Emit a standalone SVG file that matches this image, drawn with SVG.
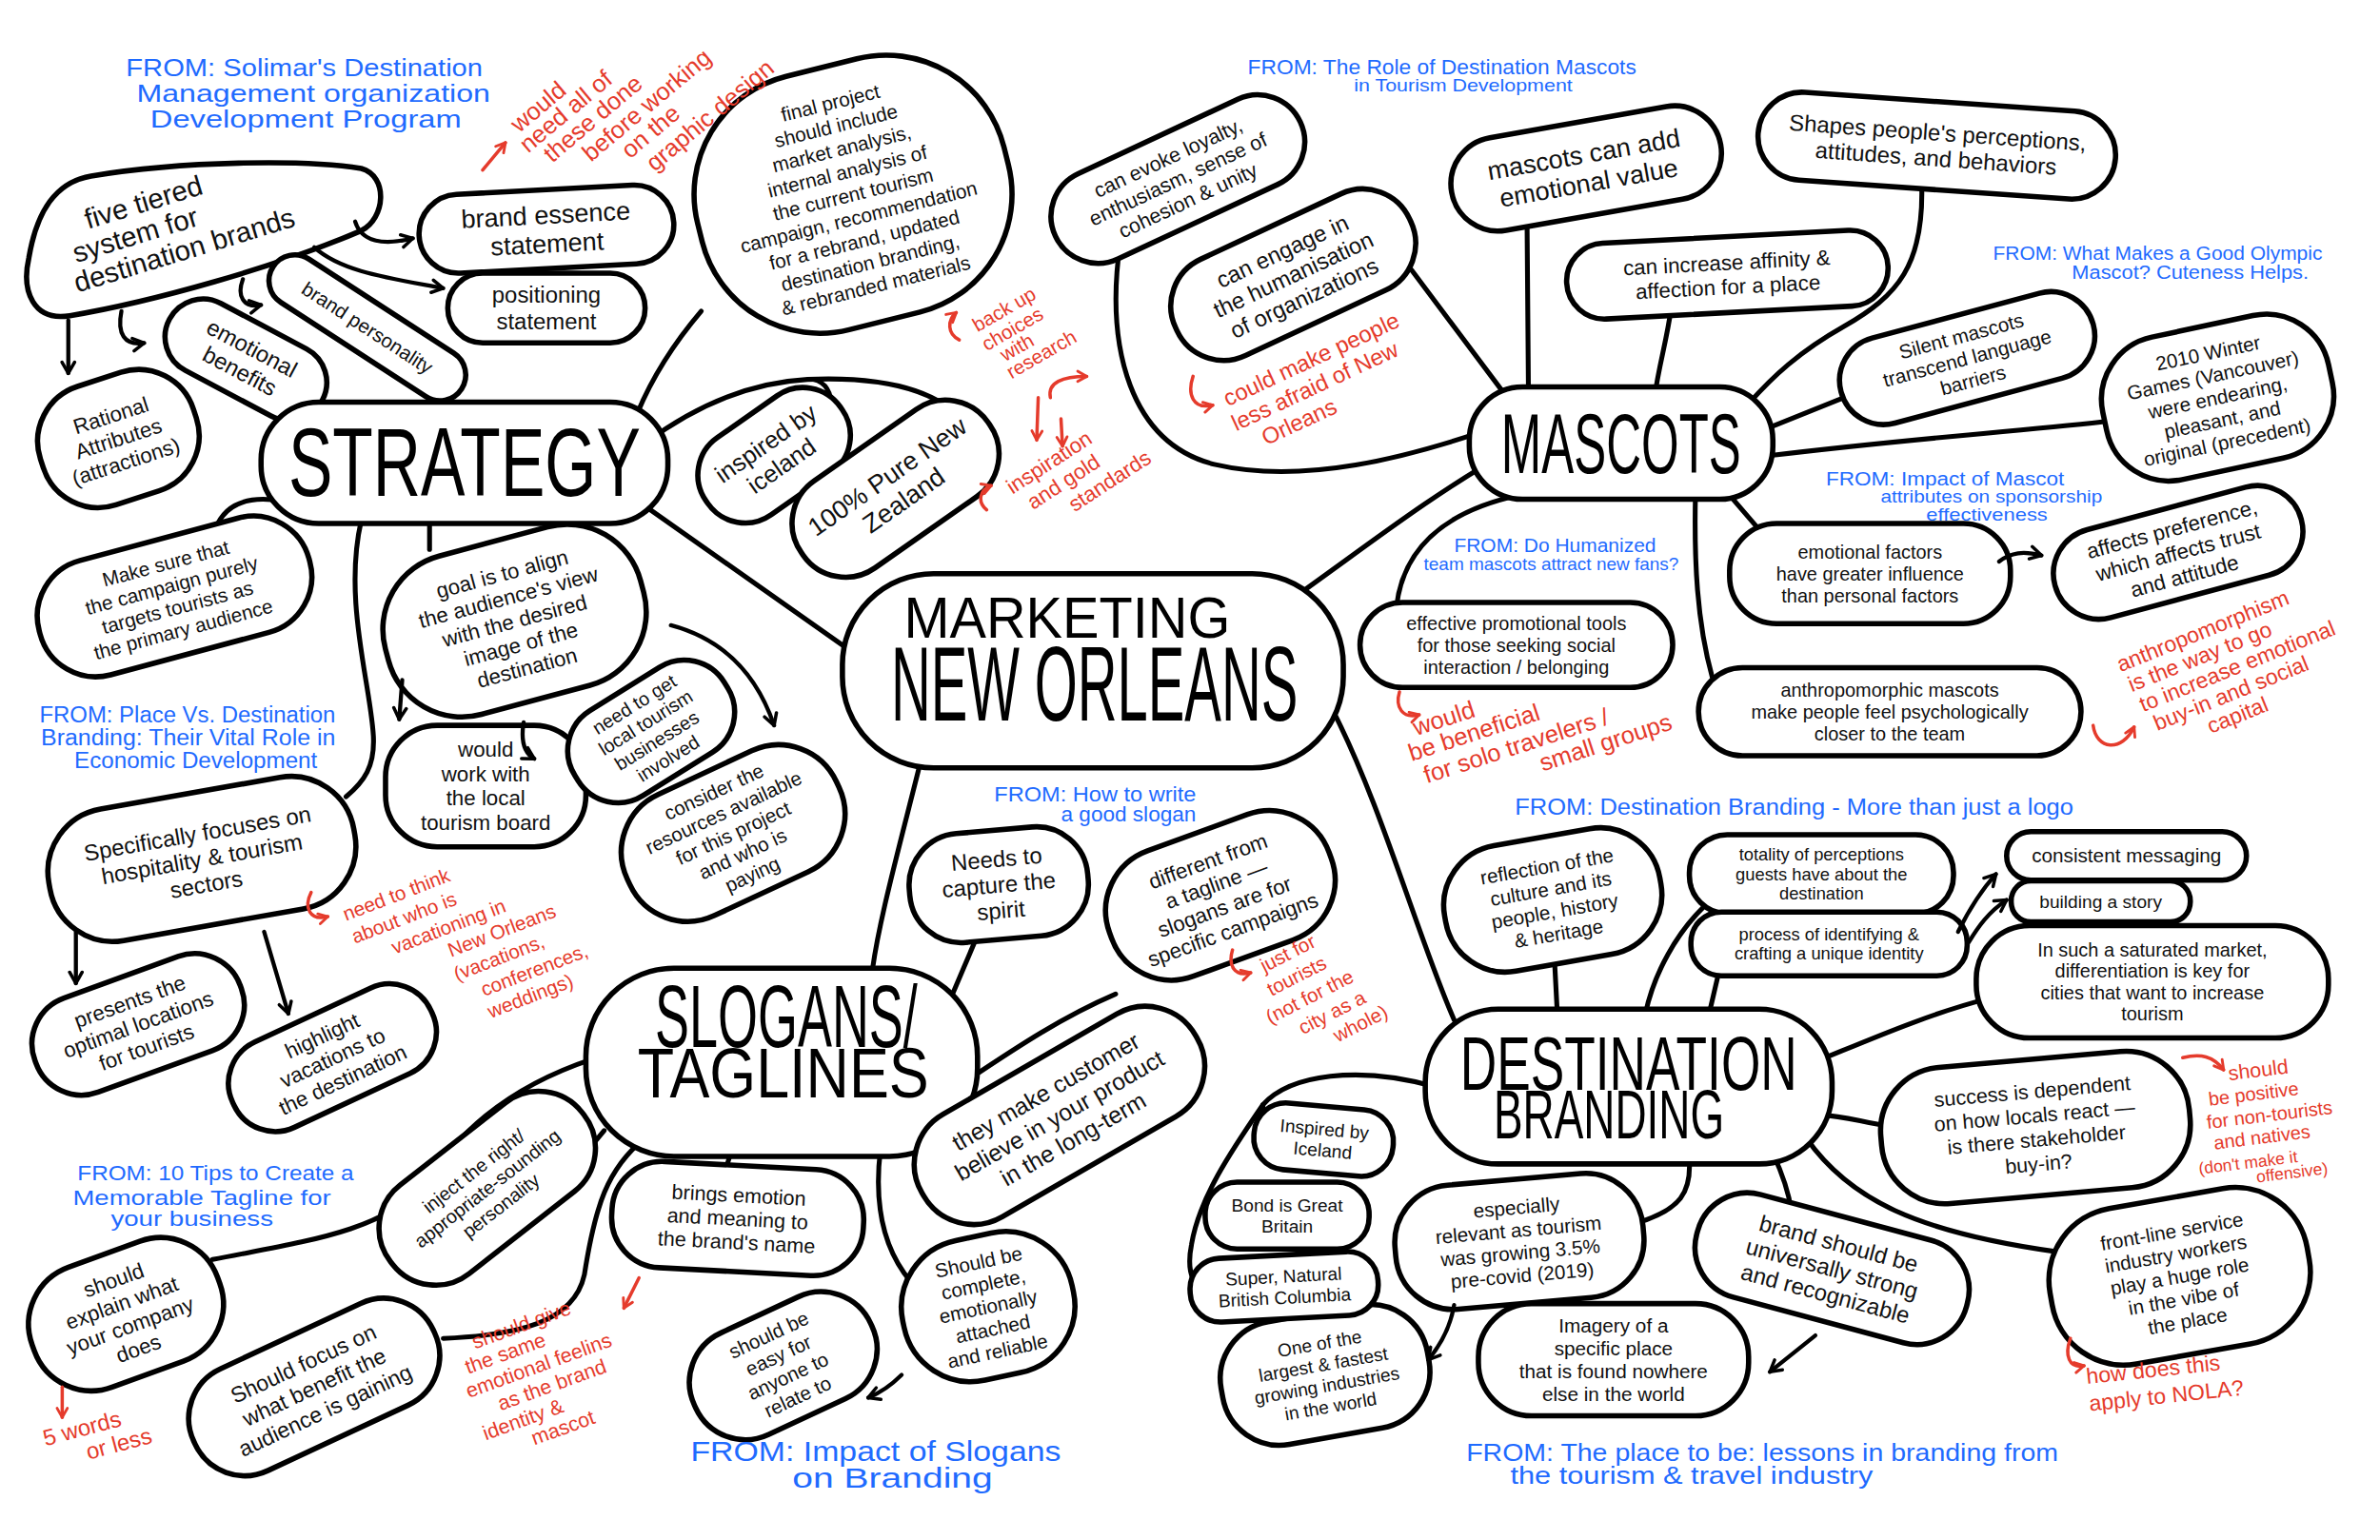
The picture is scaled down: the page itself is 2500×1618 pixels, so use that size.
<svg xmlns="http://www.w3.org/2000/svg" width="2500" height="1618" viewBox="0 0 2500 1618">
<defs>
<style>
text{font-family:"Liberation Sans",Arial,sans-serif}
.n{fill:#fff;stroke:#000;stroke-width:3.5;stroke-linejoin:round}
.c{fill:none;stroke:#000;stroke-width:3.2;stroke-linecap:round}
.ca{fill:none;stroke:#000;stroke-width:2.7;stroke-linecap:round;marker-end:url(#ah)}
.ra{fill:none;stroke:#e53b2c;stroke-width:2.2;stroke-linecap:round;marker-end:url(#rh)}
.t{fill:#111;text-anchor:middle}
.ts{fill:#111;text-anchor:start}
.hd{fill:#000;text-anchor:middle}
.bl{fill:#1f6bff}
.rd{fill:#e53b2c}
</style>
<marker id="ah" viewBox="0 0 12 12" refX="10" refY="6" markerWidth="11" markerHeight="11" markerUnits="userSpaceOnUse" orient="auto"><path d="M2,1.5 L10,6 L2,10.5" fill="none" stroke="#000" stroke-width="2.4" stroke-linecap="round" stroke-linejoin="round"/></marker>
<marker id="rh" viewBox="0 0 12 12" refX="10" refY="6" markerWidth="9" markerHeight="9" markerUnits="userSpaceOnUse" orient="auto"><path d="M2,1.5 L10,6 L2,10.5" fill="none" stroke="#e53b2c" stroke-width="2.4" stroke-linecap="round" stroke-linejoin="round"/></marker>
</defs>
<rect width="2500" height="1618" fill="#fff"/>
<g transform="scale(1.5944)">

<g id="connectors">
<path class="c" d="M420,330 C470,365 520,400 562,430"/>
<path class="c" d="M855,392 C900,360 945,325 990,300"/>
<path class="c" d="M607,500 C592,560 578,610 574,645"/>
<path class="c" d="M878,468 C910,530 935,620 958,672"/>
<path class="c" d="M420,272 C430,248 445,225 462,205"/>
<path class="c" d="M425,292 C460,266 495,252 532,250 C580,248 625,256 642,288"/>
<path class="c" d="M536,250 C544,252 548,258 548,270"/>
<path class="c" d="M185,330 C160,326 144,334 140,356"/>
<path class="c" d="M283,340 L283,362"/>
<path class="c" d="M238,343 C226,395 244,450 246,485 C247,505 240,515 228,525"/>
<path class="c" d="M738,160 C728,230 745,292 800,306 C860,320 930,300 975,285"/>
<path class="c" d="M930,178 L990,258"/>
<path class="c" d="M1007,262 L1006,140"/>
<path class="c" d="M1090,262 C1093,240 1098,225 1101,203"/>
<path class="c" d="M1152,266 C1168,248 1185,232 1215,215 C1250,195 1268,175 1266,120"/>
<path class="c" d="M1165,282 L1215,262"/>
<path class="c" d="M1168,300 C1250,290 1320,285 1385,278"/>
<path class="c" d="M1134,320 L1165,356"/>
<path class="c" d="M1117,325 C1116,370 1118,410 1128,446"/>
<path class="c" d="M1002,326 C960,335 925,355 920,400"/>
<path class="c" d="M628,654 L645,614"/>
<path class="c" d="M640,710 C670,690 700,670 735,655"/>
<path class="c" d="M628,735 C642,735 650,745 652,758"/>
<path class="c" d="M580,758 C575,800 585,830 605,850"/>
<path class="c" d="M482,758 L477,774"/>
<path class="c" d="M398,745 L384,762"/>
<path class="c" d="M425,750 C400,770 392,795 385,840 C378,872 340,880 292,882"/>
<path class="c" d="M390,698 C330,718 300,750 280,780 C252,812 200,818 140,830"/>
<path class="c" d="M1026,668 L1024,630"/>
<path class="c" d="M1084,668 C1090,640 1105,615 1122,598"/>
<path class="c" d="M1126,668 L1133,638"/>
<path class="c" d="M1195,700 C1225,688 1270,668 1310,658"/>
<path class="c" d="M1200,735 C1215,735 1228,740 1245,742"/>
<path class="c" d="M1190,750 C1218,790 1262,812 1356,825"/>
<path class="c" d="M1168,760 C1175,775 1180,790 1181,805"/>
<path class="c" d="M1113,765 C1114,785 1108,797 1078,806"/>
<path class="c" d="M945,716 C895,702 850,708 832,728 C810,760 790,790 785,820 C782,835 785,845 792,850"/>
<path class="c" d="M832,728 L833,745"/>
<path class="c" d="M796,788 C799,796 803,800 808,805"/>
</g>

<g id="nodes">
<g id="n-five-tiered"><path class="n" d="M60,116 C120,106 200,105 238,111 C256,116 254,144 238,152 C182,176 100,199 46,208 C22,212 14,192 19,170 C24,140 36,120 60,116 Z"/><text class="ts" font-size="18.5" transform="translate(58 151) rotate(-17)"><tspan x="0" y="0">five tiered</tspan><tspan x="-14" y="19">system for</tspan><tspan x="-19" y="38">destination brands</tspan></text></g>
<g id="n-brand-essence" transform="translate(360 151) rotate(-3)"><rect class="n" x="-84" y="-26" width="168" height="52" rx="26"/><text class="t" font-size="17" y="-3.5"><tspan x="0">brand essence</tspan><tspan x="0" dy="19">statement</tspan></text></g>
<g id="n-positioning" transform="translate(360 203)"><rect class="n" x="-65" y="-23" width="130" height="46" rx="23"/><text class="t" font-size="15" y="-3.3"><tspan x="0">positioning</tspan><tspan x="0" dy="17">statement</tspan></text></g>
<g id="n-brand-personality" transform="translate(242 216) rotate(33)"><rect class="n" x="-74" y="-17" width="148" height="34" rx="17"/><text class="t" font-size="13" y="4.5">brand personality</text></g>
<g id="n-emotional-benefits" transform="translate(162 237) rotate(28)"><rect class="n" x="-57" y="-25" width="114" height="50" rx="25"/><text class="t" font-size="15" y="-3.3"><tspan x="0">emotional</tspan><tspan x="0" dy="17">benefits</tspan></text></g>
<g id="n-rational" transform="translate(78 289) rotate(-18)"><rect class="n" x="-53" y="-41" width="106" height="82" rx="38"/><text class="t" font-size="14" y="-11.1"><tspan x="0">Rational</tspan><tspan x="0" dy="16">Attributes</tspan><tspan x="0" dy="16">(attractions)</tspan></text></g>
<g id="n-strategy" transform="translate(306 305)"><rect class="n" x="-134" y="-40" width="268" height="80" rx="38"/><text class="hd" font-size="64" y="22" textLength="232" lengthAdjust="spacingAndGlyphs" x="0">STRATEGY</text></g>
<g id="n-final-project" transform="translate(562 128) rotate(-14)"><rect class="n" x="-104" y="-86" width="208" height="172" rx="80"/><text class="t" font-size="13" y="-57.5"><tspan x="0">final project</tspan><tspan x="0" dy="15.5">should include</tspan><tspan x="0" dy="15.5">market analysis,</tspan><tspan x="0" dy="15.5">internal analysis of</tspan><tspan x="0" dy="15.5">the current tourism</tspan><tspan x="0" dy="15.5">campaign, recommendation</tspan><tspan x="0" dy="15.5">for a rebrand, updated</tspan><tspan x="0" dy="15.5">destination branding,</tspan><tspan x="0" dy="15.5">&amp; rebranded materials</tspan></text></g>
<g id="n-inspired-iceland" transform="translate(510 300) rotate(-35)"><rect class="n" x="-54" y="-31" width="108" height="62" rx="30"/><text class="t" font-size="16" y="-4"><tspan x="0">inspired by</tspan><tspan x="0" dy="18">iceland</tspan></text></g>
<g id="n-pure-nz" transform="translate(590 322) rotate(-35)"><rect class="n" x="-75" y="-35" width="150" height="70" rx="34"/><text class="t" font-size="17" y="-3.8"><tspan x="0">100% Pure New</tspan><tspan x="0" dy="19">Zealand</tspan></text></g>
<g id="n-can-evoke" transform="translate(776 118) rotate(-25)"><rect class="n" x="-89" y="-31" width="178" height="62" rx="31"/><text class="t" font-size="13.5" y="-10.8"><tspan x="0">can evoke loyalty,</tspan><tspan x="0" dy="15.5">enthusiasm, sense of</tspan><tspan x="0" dy="15.5">cohesion &amp; unity</tspan></text></g>
<g id="n-can-engage" transform="translate(852 181) rotate(-25)"><rect class="n" x="-85" y="-35" width="170" height="70" rx="34"/><text class="t" font-size="15" y="-11.8"><tspan x="0">can engage in</tspan><tspan x="0" dy="17">the humanisation</tspan><tspan x="0" dy="17">of organizations</tspan></text></g>
<g id="n-mascots-add" transform="translate(1045 111) rotate(-10)"><rect class="n" x="-90" y="-31" width="180" height="62" rx="31"/><text class="t" font-size="17" y="-3.5"><tspan x="0">mascots can add</tspan><tspan x="0" dy="19">emotional value</tspan></text></g>
<g id="n-shapes" transform="translate(1276 96) rotate(4)"><rect class="n" x="-118" y="-29" width="236" height="58" rx="29"/><text class="t" font-size="15" y="-3.4"><tspan x="0">Shapes people's perceptions,</tspan><tspan x="0" dy="17">attitudes, and behaviors</tspan></text></g>
<g id="n-can-increase" transform="translate(1138 181) rotate(-3)"><rect class="n" x="-106" y="-25" width="212" height="50" rx="25"/><text class="t" font-size="14" y="-3.1"><tspan x="0">can increase affinity &amp;</tspan><tspan x="0" dy="16">affection for a place</tspan></text></g>
<g id="n-silent" transform="translate(1296 236) rotate(-15)"><rect class="n" x="-86" y="-29" width="172" height="58" rx="29"/><text class="t" font-size="13" y="-10.5"><tspan x="0">Silent mascots</tspan><tspan x="0" dy="15">transcend language</tspan><tspan x="0" dy="15">barriers</tspan></text></g>
<g id="n-winter" transform="translate(1461 262) rotate(-12)"><rect class="n" x="-76" y="-48" width="152" height="96" rx="42"/><text class="t" font-size="13" y="-25.5"><tspan x="0">2010 Winter</tspan><tspan x="0" dy="15">Games (Vancouver)</tspan><tspan x="0" dy="15">were endearing,</tspan><tspan x="0" dy="15">pleasant, and</tspan><tspan x="0" dy="15">original (precedent)</tspan></text></g>
<g id="n-mascots" transform="translate(1068 292)"><rect class="n" x="-100" y="-37" width="200" height="74" rx="35"/><text class="hd" font-size="56" x="0" y="20" textLength="158" lengthAdjust="spacingAndGlyphs">MASCOTS</text></g>
<g id="n-emo-factors" transform="translate(1232 378)"><rect class="n" x="-92.5" y="-33" width="185" height="66" rx="31"/><text class="t" font-size="12.5" y="-10.1"><tspan x="0">emotional factors</tspan><tspan x="0" dy="14.5">have greater influence</tspan><tspan x="0" dy="14.5">than personal factors</tspan></text></g>
<g id="n-affects" transform="translate(1435 364) rotate(-15)"><rect class="n" x="-84" y="-30" width="168" height="60" rx="30"/><text class="t" font-size="14" y="-11.1"><tspan x="0">affects preference,</tspan><tspan x="0" dy="16">which affects trust</tspan><tspan x="0" dy="16">and attitude</tspan></text></g>
<g id="n-anthro" transform="translate(1245 469)"><rect class="n" x="-126" y="-29" width="252" height="58" rx="29"/><text class="t" font-size="12.5" y="-10.1"><tspan x="0">anthropomorphic mascots</tspan><tspan x="0" dy="14.5">make people feel psychologically</tspan><tspan x="0" dy="14.5">closer to the team</tspan></text></g>
<g id="n-effective" transform="translate(999 425)"><rect class="n" x="-103" y="-28" width="206" height="56" rx="28"/><text class="t" font-size="12.5" y="-10.1"><tspan x="0">effective promotional tools</tspan><tspan x="0" dy="14.5">for those seeking social</tspan><tspan x="0" dy="14.5">interaction / belonging</tspan></text></g>
<g id="n-center" transform="translate(720 442)"><rect class="n" x="-165" y="-64" width="330" height="128" rx="60"/><text class="hd" font-size="38" x="-17" y="-22" textLength="215" lengthAdjust="spacingAndGlyphs">MARKETING</text><text class="hd" font-size="70" x="1" y="33" textLength="268" lengthAdjust="spacingAndGlyphs">NEW ORLEANS</text></g>
<g id="n-make-sure" transform="translate(115 393) rotate(-15)"><rect class="n" x="-92" y="-39" width="184" height="78" rx="38"/><text class="t" font-size="13" y="-18"><tspan x="0">Make sure that</tspan><tspan x="0" dy="15">the campaign purely</tspan><tspan x="0" dy="15">targets tourists as</tspan><tspan x="0" dy="15">the primary audience</tspan></text></g>
<g id="n-goal" transform="translate(339 409) rotate(-15)"><rect class="n" x="-87" y="-54" width="174" height="108" rx="50"/><text class="t" font-size="14" y="-27.1"><tspan x="0">goal is to align</tspan><tspan x="0" dy="16">the audience's view</tspan><tspan x="0" dy="16">with the desired</tspan><tspan x="0" dy="16">image of the</tspan><tspan x="0" dy="16">destination</tspan></text></g>
<g id="n-local-board" transform="translate(320 518)"><rect class="n" x="-66" y="-40" width="132" height="80" rx="34"/><text class="t" font-size="14" y="-19.1"><tspan x="0">would</tspan><tspan x="0" dy="16">work with</tspan><tspan x="0" dy="16">the local</tspan><tspan x="0" dy="16">tourism board</tspan></text></g>
<g id="n-local-business" transform="translate(429 482) rotate(-32)"><rect class="n" x="-58" y="-33" width="116" height="66" rx="31"/><text class="t" font-size="12.5" y="-16.6"><tspan x="0">need to get</tspan><tspan x="0" dy="14">local tourism</tspan><tspan x="0" dy="14">businesses</tspan><tspan x="0" dy="14">involved</tspan></text></g>
<g id="n-consider" transform="translate(483 549) rotate(-25)"><rect class="n" x="-76" y="-44" width="152" height="88" rx="42"/><text class="t" font-size="13" y="-25.5"><tspan x="0">consider the</tspan><tspan x="0" dy="15">resources available</tspan><tspan x="0" dy="15">for this project</tspan><tspan x="0" dy="15">and who is</tspan><tspan x="0" dy="15">paying</tspan></text></g>
<g id="n-specifically" transform="translate(133 566) rotate(-10)"><rect class="n" x="-102" y="-44" width="204" height="88" rx="42"/><text class="t" font-size="15" y="-11.8"><tspan x="0">Specifically focuses on</tspan><tspan x="0" dy="17">hospitality &amp; tourism</tspan><tspan x="0" dy="17">sectors</tspan></text></g>
<g id="n-presents" transform="translate(91 675) rotate(-20)"><rect class="n" x="-72" y="-33" width="144" height="66" rx="32"/><text class="t" font-size="14" y="-11.1"><tspan x="0">presents the</tspan><tspan x="0" dy="16">optimal locations</tspan><tspan x="0" dy="16">for tourists</tspan></text></g>
<g id="n-highlight" transform="translate(219 697) rotate(-25)"><rect class="n" x="-72" y="-31" width="144" height="62" rx="30"/><text class="t" font-size="14" y="-11.1"><tspan x="0">highlight</tspan><tspan x="0" dy="16">vacations to</tspan><tspan x="0" dy="16">the destination</tspan></text></g>
<g id="n-slogans" transform="translate(515 700)"><rect class="n" x="-129" y="-62" width="258" height="124" rx="58"/><text class="hd" font-size="58" x="3" y="-10" textLength="173" lengthAdjust="spacingAndGlyphs">SLOGANS/</text><text class="hd" font-size="46" x="1" y="23" textLength="192" lengthAdjust="spacingAndGlyphs">TAGLINES</text></g>
<g id="n-needs" transform="translate(658 583) rotate(-5)"><rect class="n" x="-59" y="-36" width="118" height="72" rx="34"/><text class="t" font-size="15" y="-11.8"><tspan x="0">Needs to</tspan><tspan x="0" dy="17">capture the</tspan><tspan x="0" dy="17">spirit</tspan></text></g>
<g id="n-different" transform="translate(804 590) rotate(-20)"><rect class="n" x="-77" y="-44" width="154" height="88" rx="42"/><text class="t" font-size="14" y="-19.1"><tspan x="0">different from</tspan><tspan x="0" dy="16">a tagline —</tspan><tspan x="0" dy="16">slogans are for</tspan><tspan x="0" dy="16">specific campaigns</tspan></text></g>
<g id="n-they-make" transform="translate(698 735) rotate(-30)"><rect class="n" x="-104" y="-39" width="208" height="78" rx="38"/><text class="t" font-size="15.5" y="-12.6"><tspan x="0">they make customer</tspan><tspan x="0" dy="18">believe in your product</tspan><tspan x="0" dy="18">in the long-term</tspan></text></g>
<g id="n-complete" transform="translate(651 861) rotate(-12)"><rect class="n" x="-57" y="-47" width="114" height="94" rx="45"/><text class="t" font-size="13" y="-25.5"><tspan x="0">Should be</tspan><tspan x="0" dy="15">complete,</tspan><tspan x="0" dy="15">emotionally</tspan><tspan x="0" dy="15">attached</tspan><tspan x="0" dy="15">and reliable</tspan></text></g>
<g id="n-easy" transform="translate(516 900) rotate(-25)"><rect class="n" x="-64" y="-37" width="128" height="74" rx="36"/><text class="t" font-size="13" y="-18"><tspan x="0">should be</tspan><tspan x="0" dy="15">easy for</tspan><tspan x="0" dy="15">anyone to</tspan><tspan x="0" dy="15">relate to</tspan></text></g>
<g id="n-brings" transform="translate(486 803) rotate(3)"><rect class="n" x="-83" y="-35" width="166" height="70" rx="33"/><text class="t" font-size="13.5" y="-10.8"><tspan x="0">brings emotion</tspan><tspan x="0" dy="15.5">and meaning to</tspan><tspan x="0" dy="15.5">the brand's name</tspan></text></g>
<g id="n-inject" transform="translate(321 783) rotate(-38)"><rect class="n" x="-80" y="-37" width="160" height="74" rx="36"/><text class="t" font-size="12.5" y="-10.1"><tspan x="0">inject the right/</tspan><tspan x="0" dy="14.5">appropriate-sounding</tspan><tspan x="0" dy="14.5">personality</tspan></text></g>
<g id="n-explain" transform="translate(83 866) rotate(-20)"><rect class="n" x="-65" y="-42" width="130" height="84" rx="40"/><text class="t" font-size="14" y="-19.1"><tspan x="0">should</tspan><tspan x="0" dy="16">explain what</tspan><tspan x="0" dy="16">your company</tspan><tspan x="0" dy="16">does</tspan></text></g>
<g id="n-focus" transform="translate(207 914) rotate(-25)"><rect class="n" x="-87" y="-37" width="174" height="74" rx="36"/><text class="t" font-size="14.5" y="-11.9"><tspan x="0">Should focus on</tspan><tspan x="0" dy="17">what benefit the</tspan><tspan x="0" dy="17">audience is gaining</tspan></text></g>
<g id="n-dest" transform="translate(1073 716)"><rect class="n" x="-134" y="-51" width="268" height="102" rx="48"/><text class="hd" font-size="50" x="0" y="2" textLength="222" lengthAdjust="spacingAndGlyphs">DESTINATION</text><text class="hd" font-size="45" x="-13" y="34" textLength="152" lengthAdjust="spacingAndGlyphs">BRANDING</text></g>
<g id="n-reflection" transform="translate(1023 593) rotate(-10)"><rect class="n" x="-72" y="-42" width="144" height="84" rx="40"/><text class="t" font-size="13" y="-18"><tspan x="0">reflection of the</tspan><tspan x="0" dy="15">culture and its</tspan><tspan x="0" dy="15">people, history</tspan><tspan x="0" dy="15">&amp; heritage</tspan></text></g>
<g id="n-totality" transform="translate(1200 576)"><rect class="n" x="-87" y="-26" width="174" height="52" rx="25"/><text class="t" font-size="11.5" y="-9"><tspan x="0">totality of perceptions</tspan><tspan x="0" dy="13">guests have about the</tspan><tspan x="0" dy="13">destination</tspan></text></g>
<g id="n-process" transform="translate(1205 622)"><rect class="n" x="-91" y="-21" width="182" height="42" rx="20"/><text class="t" font-size="11.5" y="-2.5"><tspan x="0">process of identifying &amp;</tspan><tspan x="0" dy="13">crafting a unique identity</tspan></text></g>
<g id="n-consistent" transform="translate(1401 564)"><rect class="n" x="-79" y="-16" width="158" height="32" rx="16"/><text class="t" font-size="13" y="4.5">consistent messaging</text></g>
<g id="n-building" transform="translate(1384 594)"><rect class="n" x="-59" y="-13.5" width="118" height="27" rx="13"/><text class="t" font-size="12" y="4.2">building a story</text></g>
<g id="n-saturated" transform="translate(1418 647)"><rect class="n" x="-116" y="-37" width="232" height="74" rx="35"/><text class="t" font-size="12.5" y="-16.6"><tspan x="0">In such a saturated market,</tspan><tspan x="0" dy="14">differentiation is key for</tspan><tspan x="0" dy="14">cities that want to increase</tspan><tspan x="0" dy="14">tourism</tspan></text></g>
<g id="n-success" transform="translate(1341 743) rotate(-5)"><rect class="n" x="-102" y="-45" width="204" height="90" rx="42"/><text class="t" font-size="13.5" y="-19.3"><tspan x="0">success is dependent</tspan><tspan x="0" dy="16">on how locals react —</tspan><tspan x="0" dy="16">is there stakeholder</tspan><tspan x="0" dy="16">buy-in?</tspan></text></g>
<g id="n-front-line" transform="translate(1436 841) rotate(-10)"><rect class="n" x="-86" y="-52" width="172" height="104" rx="48"/><text class="t" font-size="13" y="-25.5"><tspan x="0">front-line service</tspan><tspan x="0" dy="15">industry workers</tspan><tspan x="0" dy="15">play a huge role</tspan><tspan x="0" dy="15">in the vibe of</tspan><tspan x="0" dy="15">the place</tspan></text></g>
<g id="n-brand-strong" transform="translate(1207 836) rotate(15)"><rect class="n" x="-92" y="-35" width="184" height="70" rx="34"/><text class="t" font-size="15" y="-11.8"><tspan x="0">brand should be</tspan><tspan x="0" dy="17">universally strong</tspan><tspan x="0" dy="17">and recognizable</tspan></text></g>
<g id="n-especially" transform="translate(1001 818) rotate(-5)"><rect class="n" x="-82" y="-41" width="164" height="82" rx="38"/><text class="t" font-size="13" y="-18"><tspan x="0">especially</tspan><tspan x="0" dy="15">relevant as tourism</tspan><tspan x="0" dy="15">was growing 3.5%</tspan><tspan x="0" dy="15">pre-covid (2019)</tspan></text></g>
<g id="n-one-of" transform="translate(873 906) rotate(-10)"><rect class="n" x="-69" y="-41" width="138" height="82" rx="38"/><text class="t" font-size="12" y="-16.8"><tspan x="0">One of the</tspan><tspan x="0" dy="14">largest &amp; fastest</tspan><tspan x="0" dy="14">growing industries</tspan><tspan x="0" dy="14">in the world</tspan></text></g>
<g id="n-imagery" transform="translate(1063 896)"><rect class="n" x="-89" y="-37" width="178" height="74" rx="35"/><text class="t" font-size="13" y="-18"><tspan x="0">Imagery of a</tspan><tspan x="0" dy="15">specific place</tspan><tspan x="0" dy="15">that is found nowhere</tspan><tspan x="0" dy="15">else in the world</tspan></text></g>
<g id="n-iceland" transform="translate(872 751) rotate(5)"><rect class="n" x="-46" y="-22" width="92" height="44" rx="21"/><text class="t" font-size="12" y="-2.8"><tspan x="0">Inspired by</tspan><tspan x="0" dy="14">Iceland</tspan></text></g>
<g id="n-bond" transform="translate(848 801)"><rect class="n" x="-54" y="-22" width="108" height="44" rx="21"/><text class="t" font-size="12" y="-2.8"><tspan x="0">Bond is Great</tspan><tspan x="0" dy="14">Britain</tspan></text></g>
<g id="n-super" transform="translate(846 848) rotate(-3)"><rect class="n" x="-62" y="-21" width="124" height="42" rx="20"/><text class="t" font-size="12" y="-2.8"><tspan x="0">Super, Natural</tspan><tspan x="0" dy="14">British Columbia</tspan></text></g>
</g>

<g id="arrows">
<path class="ca" d="M45,211 L45,246"/>
<path class="ca" d="M80,205 C77,220 82,228 95,226"/>
<path class="ca" d="M160,184 C156,195 160,203 172,201"/>
<path class="ca" d="M234,146 C238,159 252,162 272,157"/>
<path class="ca" d="M207,163 C225,179 255,183 292,190"/>
<path class="ca" d="M265,448 L263,474"/>
<path class="ca" d="M345,476 C343,488 345,496 352,500"/>
<path class="ca" d="M442,412 C472,420 497,440 510,478"/>
<path class="ca" d="M50,614 L50,648"/>
<path class="ca" d="M174,614 L190,668"/>
<path class="ca" d="M1317,370 C1325,364 1333,363 1345,366"/>
<path class="ca" d="M594,906 C588,912 582,917 572,921"/>
<path class="ca" d="M958,860 C956,872 951,884 941,896"/>
<path class="ca" d="M1196,880 L1166,904"/>
<path class="ca" d="M1290,614 C1297,600 1304,588 1315,576"/>
<path class="ca" d="M1297,621 C1303,611 1310,601 1322,593"/>
</g>

<g id="sources">
<text class="bl" font-size="16.5" x="83" y="50" textLength="235" lengthAdjust="spacingAndGlyphs">FROM: Solimar's Destination</text>
<text class="bl" font-size="16.5" x="90" y="67" textLength="233" lengthAdjust="spacingAndGlyphs">Management organization</text>
<text class="bl" font-size="16.5" x="99" y="84" textLength="205" lengthAdjust="spacingAndGlyphs">Development Program</text>
<text class="bl" font-size="14" x="822" y="49" textLength="256" lengthAdjust="spacingAndGlyphs">FROM: The Role of Destination Mascots</text>
<text class="bl" font-size="11.5" x="892" y="60" textLength="144" lengthAdjust="spacingAndGlyphs">in Tourism Development</text>
<text class="bl" font-size="13" x="1313" y="171" textLength="217" lengthAdjust="spacingAndGlyphs">FROM: What Makes a Good Olympic</text>
<text class="bl" font-size="13" x="1365" y="184" textLength="156" lengthAdjust="spacingAndGlyphs">Mascot? Cuteness Helps.</text>
<text class="bl" font-size="13" x="1203" y="320" textLength="157" lengthAdjust="spacingAndGlyphs">FROM: Impact of Mascot</text>
<text class="bl" font-size="11.5" x="1239" y="331" textLength="146" lengthAdjust="spacingAndGlyphs">attributes on sponsorship</text>
<text class="bl" font-size="11.5" x="1269" y="343" textLength="80" lengthAdjust="spacingAndGlyphs">effectiveness</text>
<text class="bl" font-size="13" x="958" y="364" textLength="133" lengthAdjust="spacingAndGlyphs">FROM: Do Humanized</text>
<text class="bl" font-size="11" x="938" y="376" textLength="168" lengthAdjust="spacingAndGlyphs">team mascots attract new fans?</text>
<text class="bl" font-size="15" x="26" y="476" textLength="195" lengthAdjust="spacingAndGlyphs">FROM: Place Vs. Destination</text>
<text class="bl" font-size="15" x="27" y="491" textLength="194" lengthAdjust="spacingAndGlyphs">Branding: Their Vital Role in</text>
<text class="bl" font-size="15" x="49" y="506" textLength="160" lengthAdjust="spacingAndGlyphs">Economic Development</text>
<text class="bl" font-size="14" x="655" y="528" textLength="133" lengthAdjust="spacingAndGlyphs">FROM: How to write</text>
<text class="bl" font-size="14" x="699" y="541" textLength="89" lengthAdjust="spacingAndGlyphs">a good slogan</text>
<text class="bl" font-size="15" x="998" y="537" textLength="368" lengthAdjust="spacingAndGlyphs">FROM: Destination Branding - More than just a logo</text>
<text class="bl" font-size="14" x="51" y="778" textLength="182" lengthAdjust="spacingAndGlyphs">FROM: 10 Tips to Create a</text>
<text class="bl" font-size="14" x="48" y="794" textLength="170" lengthAdjust="spacingAndGlyphs">Memorable Tagline for</text>
<text class="bl" font-size="14" x="73" y="808" textLength="107" lengthAdjust="spacingAndGlyphs">your business</text>
<text class="bl" font-size="18" x="455" y="963" textLength="244" lengthAdjust="spacingAndGlyphs">FROM: Impact of Slogans</text>
<text class="bl" font-size="18" x="522" y="980" textLength="132" lengthAdjust="spacingAndGlyphs">on Branding</text>
<text class="bl" font-size="16" x="966" y="963" textLength="390" lengthAdjust="spacingAndGlyphs">FROM: The place to be: lessons in branding from</text>
<text class="bl" font-size="16" x="995" y="978" textLength="239" lengthAdjust="spacingAndGlyphs">the tourism &amp; travel industry</text>
</g>

<g id="notes">
<path class="ra" d="M318,112 L333,94"/>
<text class="rd" font-size="16" transform="translate(342 88) rotate(-40)"><tspan x="0" y="0">would</tspan><tspan x="-4" y="14">need all of</tspan><tspan x="4" y="29">these done</tspan><tspan x="24" y="45">before working</tspan><tspan x="45" y="60">on the</tspan><tspan x="52" y="77">graphic design</tspan></text>
<path class="ra" d="M632,224 C624,220 624,211 630,206"/>
<text class="rd" font-size="13" transform="translate(644 219) rotate(-30)"><tspan x="0" y="0">back up</tspan><tspan x="-1" y="14">choices</tspan><tspan x="6" y="26">with</tspan><tspan x="4" y="38">research</tspan></text>
<path class="ra" d="M684,262 L683,290"/>
<path class="ra" d="M699,276 L700,294"/>
<path class="ra" d="M692,262 C690,252 700,248 716,248"/>
<path class="ra" d="M650,336 C644,331 645,323 653,320"/>
<text class="rd" font-size="14" transform="translate(667 326) rotate(-33)"><tspan x="0" y="0">inspiration</tspan><tspan x="6" y="16">and gold</tspan><tspan x="28" y="32">standards</tspan></text>
<path class="ra" d="M786,248 C782,260 786,270 799,267"/>
<text class="rd" font-size="15" transform="translate(809 268) rotate(-25)"><tspan x="0" y="0">could make people</tspan><tspan x="-2" y="17">less afraid of New</tspan><tspan x="12" y="34">Orleans</tspan></text>
<path class="ra" d="M922,456 C919,466 924,474 935,471"/>
<text class="rd" font-size="16" transform="translate(933 485) rotate(-18)"><tspan x="0" y="0">would</tspan><tspan x="-8" y="15">be beneficial</tspan><tspan x="-3" y="32">for solo travelers /</tspan><tspan x="72" y="48">small groups</tspan></text>
<path class="ra" d="M812,626 C809,636 813,644 824,641"/>
<text class="rd" font-size="13" transform="translate(833 641) rotate(-27)"><tspan x="0" y="0">just for</tspan><tspan x="-3" y="16">tourists</tspan><tspan x="-12" y="32">(not for the</tspan><tspan x="4" y="48">city as a</tspan><tspan x="22" y="63">whole)</tspan></text>
<path class="ra" d="M205,588 C200,598 204,607 216,604"/>
<text class="rd" font-size="13" transform="translate(228 607) rotate(-21)"><tspan x="0" y="0">need to think</tspan><tspan x="0" y="16">about who is</tspan><tspan x="22" y="32">vacationing in</tspan><tspan x="56" y="47">New Orleans</tspan><tspan x="54" y="63">(vacations,</tspan><tspan x="67" y="79">conferences,</tspan><tspan x="66" y="94">weddings)</tspan></text>
<path class="ra" d="M1379,478 C1381,494 1398,496 1406,479"/>
<text class="rd" font-size="14.5" transform="translate(1397 443) rotate(-22)"><tspan x="0" y="0">anthropomorphism</tspan><tspan x="2" y="15">is the way to go</tspan><tspan x="4" y="30">to increase emotional</tspan><tspan x="8" y="45">buy-in and social</tspan><tspan x="40" y="60">capital</tspan></text>
<path class="ra" d="M1438,697 C1450,694 1458,696 1465,705"/>
<text class="rd" font-size="12.5" transform="rotate(-7 1470 740)"><tspan x="1472" y="712" font-size="13.5">should</tspan><tspan x="1457" y="727">be positive</tspan><tspan x="1454" y="742">for non-tourists</tspan><tspan x="1457" y="756">and natives</tspan><tspan x="1445" y="771" font-size="11">(don't make it</tspan><tspan x="1482" y="781" font-size="11">offensive)</tspan></text>
<path class="ra" d="M1364,882 C1360,893 1363,902 1373,900"/>
<text class="rd" font-size="14.5" transform="rotate(-6 1375 912)"><tspan x="1375" y="912">how does this</tspan><tspan x="1375" y="930">apply to NOLA?</tspan></text>
<path class="ra" d="M41,914 L41,934"/>
<text class="rd" font-size="15" transform="translate(30 953) rotate(-15)"><tspan x="0" y="0">5 words</tspan><tspan x="25" y="16">or less</tspan></text>
<path class="ra" d="M421,842 L411,862"/>
<text class="rd" font-size="13.5" transform="translate(313 889) rotate(-20)"><tspan x="0" y="0">should give</tspan><tspan x="-10" y="14">the same</tspan><tspan x="-15" y="29">emotional feelins</tspan><tspan x="2" y="44">as the brand</tspan><tspan x="-14" y="59">identity &amp;</tspan><tspan x="15" y="73">mascot</tspan></text>
</g>

</g>
</svg>
